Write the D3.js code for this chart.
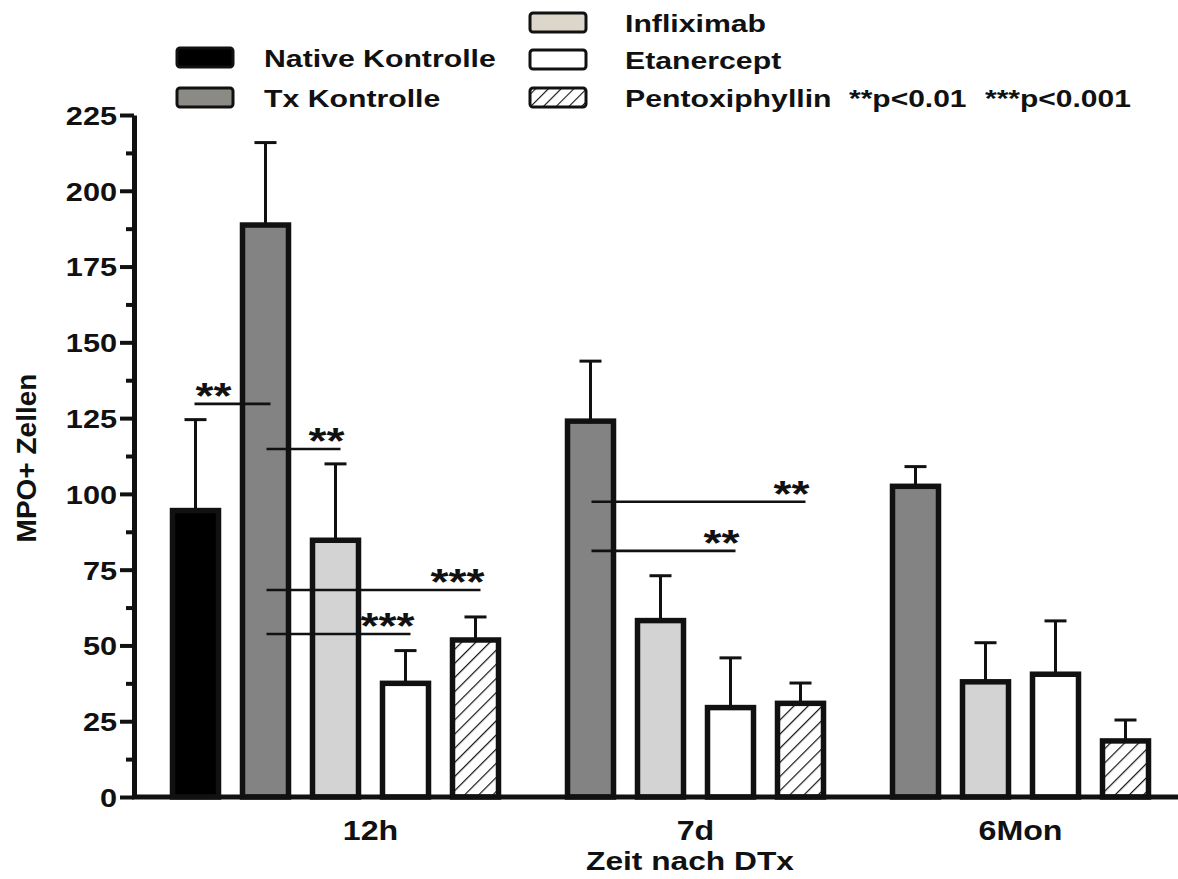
<!DOCTYPE html>
<html>
<head>
<meta charset="utf-8">
<script src="https://cdn.jsdelivr.net/npm/d3@7"></script>
<style>
  body { margin: 0; background: #fff; }
  svg text { font-family: "Liberation Sans", Arial, sans-serif; font-weight: bold; fill: #111; }
</style>
</head>
<body>
<div class="container"></div>
<script>
// data
const groups = ["12h", "7d", "6Mon"]
const series = ["Tx Kontrolle", "Infliximab", "Etanercept", "Pentoxiphyllin"]

const nativeKontrolle = [94.5, null, null]
const nativeKontrolleErr = [30, null, null]
const txKontrolle = [188.7, 124, 102.5]
const txKontrolleErr = [27.2, 19.8, 6.5]
const infliximab = [84.7, 58.2, 38]
const infliximabErr = [25.2, 14.8, 12.9]
const etanercept = [37.5, 29.5, 40.5]
const etanerceptErr = [10.8, 16.4, 17.6]
const pentoxiphyllin = [51.8, 30.9, 18.5]
const pentoxiphyllinErr = [7.6, 6.7, 6.9]

const yTicks = [0, 25, 50, 75, 100, 125, 150, 175, 200, 225]
const yMinorTicks = [12.5, 37.5, 62.5, 87.5, 112.5, 137.5, 162.5, 187.5, 212.5]

// significance bars: group, from bar, to bar, height, stars, where the stars sit
const sigGroup = ["12h", "12h", "12h", "12h", "7d", "7d"]
const sigFrom = ["Native Kontrolle", "Tx Kontrolle", "Tx Kontrolle", "Tx Kontrolle", "Tx Kontrolle", "Tx Kontrolle"]
const sigTo = ["Tx Kontrolle", "Infliximab", "Pentoxiphyllin", "Etanercept", "Pentoxiphyllin", "Etanercept"]
const sigValue = [129.7, 114.8, 68.3, 53.8, 97.4, 81.2]
const sigLabel = ["**", "**", "***", "***", "**", "**"]
const sigAlign = ["start", "end", "end", "end", "end", "end"]

const legendNames = ["Native Kontrolle", "Tx Kontrolle", "Infliximab", "Etanercept", "Pentoxiphyllin"]

const fills = {
  "Native Kontrolle": "#000",
  "Tx Kontrolle": "#838383",
  "Infliximab": "#d3d3d3",
  "Etanercept": "#fff",
  "Pentoxiphyllin": "url(#hatch)"
}
const legendFills = {
  "Native Kontrolle": "#000",
  "Tx Kontrolle": "#8b8a84",
  "Infliximab": "#ddd6cb",
  "Etanercept": "#fff",
  "Pentoxiphyllin": "url(#hatchSmall)"
}

const valuesBySeries = {
  "Native Kontrolle": [nativeKontrolle, nativeKontrolleErr],
  "Tx Kontrolle": [txKontrolle, txKontrolleErr],
  "Infliximab": [infliximab, infliximabErr],
  "Etanercept": [etanercept, etanerceptErr],
  "Pentoxiphyllin": [pentoxiphyllin, pentoxiphyllinErr]
}

const W = 1178, H = 879
const axisX = 134, baseY = 797, topY = 115

const svg = d3.select(".container")
              .append("svg")
              .attr("width", W)
              .attr("height", H)

const defs = svg.append("defs")
defs.append("pattern")
    .attr("id", "hatch")
    .attr("patternUnits", "userSpaceOnUse")
    .attr("width", 10).attr("height", 10)
    .attr("patternTransform", "rotate(45)")
    .append("line")
    .attr("x1", 0).attr("y1", 0).attr("x2", 0).attr("y2", 10)
    .attr("stroke", "#111").attr("stroke-width", 2.4)
defs.append("pattern")
    .attr("id", "hatchSmall")
    .attr("patternUnits", "userSpaceOnUse")
    .attr("width", 9).attr("height", 9)
    .attr("patternTransform", "rotate(45)")
    .append("line")
    .attr("x1", 0).attr("y1", 0).attr("x2", 0).attr("y2", 9)
    .attr("stroke", "#111").attr("stroke-width", 2.2)

// stretch text horizontally, the figure is wider than tall
const stretch = (sel, sx) => {
  sel.each(function () {
    const t = d3.select(this)
    const x = +t.attr("x") || 0
    const y = +t.attr("y") || 0
    t.attr("x", 0).attr("y", 0)
     .attr("transform", "translate(" + x + "," + y + ") scale(" + sx + ",1)")
  })
}

const y = d3.scaleLinear().domain([0, 225]).range([baseY, topY])

const xGroup = d3.scaleBand()
                 .domain(groups)
                 .range([230.5, 1160.5])
                 .paddingInner(45 / 325)
                 .paddingOuter(0)
const xSeries = d3.scaleBand()
                  .domain(series)
                  .range([0, xGroup.bandwidth()])
                  .paddingInner(24 / 70)
                  .paddingOuter(12 / 70)

const barX = (g, s) => {
  if (s === "Native Kontrolle") return xGroup(g) + xSeries(series[0]) - xSeries.step()
  return xGroup(g) + xSeries(s)
}
const bw = xSeries.bandwidth()

// bars
const bars = []
Object.keys(valuesBySeries).forEach((s) => {
  const [vals, errs] = valuesBySeries[s]
  groups.forEach((g, i) => {
    if (vals[i] != null) bars.push({ group: g, series: s, value: vals[i], err: errs[i] })
  })
})

// error bars (upper only), behind the bars
const err = svg.append("g").selectAll("g")
               .data(bars)
               .enter()
               .append("g")
err.append("line")
   .attr("x1", (d) => barX(d.group, d.series) + bw / 2)
   .attr("x2", (d) => barX(d.group, d.series) + bw / 2)
   .attr("y1", (d) => y(d.value))
   .attr("y2", (d) => y(d.value + d.err))
   .attr("stroke", "#111").attr("stroke-width", 3)
err.append("line")
   .attr("x1", (d) => barX(d.group, d.series) + bw / 2 - 11)
   .attr("x2", (d) => barX(d.group, d.series) + bw / 2 + 11)
   .attr("y1", (d) => y(d.value + d.err))
   .attr("y2", (d) => y(d.value + d.err))
   .attr("stroke", "#111").attr("stroke-width", 3)

svg.append("g").selectAll("rect")
   .data(bars)
   .enter()
   .append("rect")
   .attr("x", (d) => barX(d.group, d.series))
   .attr("y", (d) => y(d.value))
   .attr("width", bw)
   .attr("height", (d) => baseY - y(d.value))
   .attr("fill", (d) => fills[d.series])
   .attr("stroke", "#111")
   .attr("stroke-width", 5.5)

// significance lines
const sigs = sigValue.map((v, i) => ({
  group: sigGroup[i], from: sigFrom[i], to: sigTo[i], value: v, label: sigLabel[i], align: sigAlign[i]
}))
const sigG = svg.append("g").selectAll("g").data(sigs).enter().append("g")
sigG.append("line")
    .attr("x1", (d) => barX(d.group, d.from) + bw / 2 + (d.from === series[0] ? 1 : -1))
    .attr("x2", (d) => barX(d.group, d.to) + bw / 2 + 5)
    .attr("y1", (d) => y(d.value))
    .attr("y2", (d) => y(d.value))
    .attr("stroke", "#111").attr("stroke-width", 2.6)
sigG.append("text")
    .attr("x", (d) => d.align === "start" ? barX(d.group, d.from) + bw / 2 : barX(d.group, d.to) + bw / 2 + 9)
    .attr("y", (d) => y(d.value) + 5)
    .attr("text-anchor", (d) => d.align)
    .style("font-size", "37px")
    .text((d) => d.label)
    .call(stretch, 1.25)

// y axis
const yAxis = svg.append("g")
                 .attr("transform", "translate(" + axisX + ",0)")
                 .call(d3.axisLeft(y).tickValues(yTicks).tickSize(14).tickSizeOuter(0).tickPadding(3))
yAxis.select(".domain").attr("stroke", "#111").attr("stroke-width", 5)
yAxis.selectAll(".tick line").attr("stroke", "#111").attr("stroke-width", 4)
yAxis.selectAll(".tick text")
     .style("font-size", "26px")
     .attr("dy", "0.36em")
     .call(stretch, 1.18)
const yMinor = svg.append("g")
                  .attr("transform", "translate(" + axisX + ",0)")
                  .call(d3.axisLeft(y).tickValues(yMinorTicks).tickSize(8).tickFormat(""))
yMinor.select(".domain").remove()
yMinor.selectAll(".tick line").attr("stroke", "#111").attr("stroke-width", 4)

// x axis line and group labels
svg.append("line")
   .attr("x1", axisX - 2).attr("x2", W)
   .attr("y1", baseY).attr("y2", baseY)
   .attr("stroke", "#111").attr("stroke-width", 5)
const xAxis = svg.append("g")
                 .attr("transform", "translate(0," + (baseY + 2) + ")")
                 .call(d3.axisBottom(xGroup).tickSize(0).tickPadding(21))
xAxis.select(".domain").remove()
xAxis.selectAll(".tick text")
     .style("font-size", "28px")
     .attr("dy", "0.71em")
     .call(stretch, 1.15)

svg.append("text")
   .attr("x", 690).attr("y", 870)
   .attr("text-anchor", "middle")
   .style("font-size", "26px")
   .text("Zeit nach DTx")
   .call(stretch, 1.22)

svg.append("text")
   .attr("transform", "translate(36,458) rotate(-90)")
   .attr("text-anchor", "middle")
   .style("font-size", "28px")
   .text("MPO+ Zellen")

// legend
const legendX = [177, 177, 530, 530, 530]
const legendY = [48, 88, 13, 50, 88]
const legendTextX = [264, 264, 625, 625, 625]
const leg = svg.append("g").selectAll("g")
               .data(legendNames)
               .enter()
               .append("g")
leg.append("rect")
   .attr("x", (d, i) => legendX[i])
   .attr("y", (d, i) => legendY[i])
   .attr("width", 56).attr("height", 19)
   .attr("rx", 3)
   .attr("fill", (d) => legendFills[d])
   .attr("stroke", "#111").attr("stroke-width", 3)
leg.append("text")
   .attr("x", (d, i) => legendTextX[i])
   .attr("y", (d, i) => legendY[i] + 19)
   .style("font-size", "24px")
   .text((d) => d)
   .call(stretch, 1.26)

svg.append("text")
   .attr("x", 849).attr("y", 107)
   .style("font-size", "24px")
   .text("**p<0.01")
   .call(stretch, 1.25)
svg.append("text")
   .attr("x", 985).attr("y", 107)
   .style("font-size", "24px")
   .text("***p<0.001")
   .call(stretch, 1.25)
</script>
</body>
</html>
